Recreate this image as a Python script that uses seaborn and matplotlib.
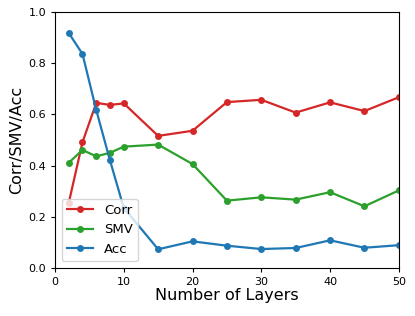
import matplotlib
matplotlib.use("Agg")
import matplotlib.pyplot as plt
import seaborn as sns
import pandas as pd

layers = [2, 4, 6, 8, 10, 15, 20, 25, 30, 35, 40, 45, 50]
corr = [0.254, 0.491, 0.645, 0.637, 0.643, 0.516, 0.536, 0.648, 0.657, 0.607, 0.647, 0.613, 0.667]
smv = [0.411, 0.461, 0.436, 0.450, 0.474, 0.482, 0.406, 0.263, 0.276, 0.267, 0.296, 0.241, 0.303]
acc = [0.918, 0.836, 0.617, 0.420, 0.235, 0.073, 0.104, 0.087, 0.074, 0.078, 0.108, 0.079, 0.089]
series_names = ["Corr", "SMV", "Acc"]
colors = ["#d62728", "#2ca02c", "#1f77b4"]

df = pd.DataFrame({
    "layers": layers * 3,
    "value": corr + smv + acc,
    "metric": [series_names[0]] * len(layers) + [series_names[1]] * len(layers) + [series_names[2]] * len(layers),
})

fig = plt.figure(figsize=(4.15, 3.16), dpi=100)
ax = fig.add_axes([0.1325, 0.152, 0.8285, 0.81])
sns.lineplot(data=df, x="layers", y="value", hue="metric", hue_order=series_names,
             palette=colors, marker="o", markersize=5, markeredgewidth=0,
             linewidth=1.6, ax=ax)
ax.set_xlim(0, 50)
ax.set_ylim(0, 1.0)
ax.set_xticks([0, 10, 20, 30, 40, 50])
ax.set_yticks([0.0, 0.2, 0.4, 0.6, 0.8, 1.0])
ax.tick_params(labelsize=8, length=3)
ax.set_xlabel("Number of Layers", fontsize=11.5, labelpad=1)
ax.set_ylabel("Corr/SMV/Acc", fontsize=11.5, labelpad=3)
handles, labels = ax.get_legend_handles_labels()
ax.legend(handles, labels, loc="lower left", fontsize=9.5, handlelength=2.0)
fig.savefig("out.png", dpi=100)
